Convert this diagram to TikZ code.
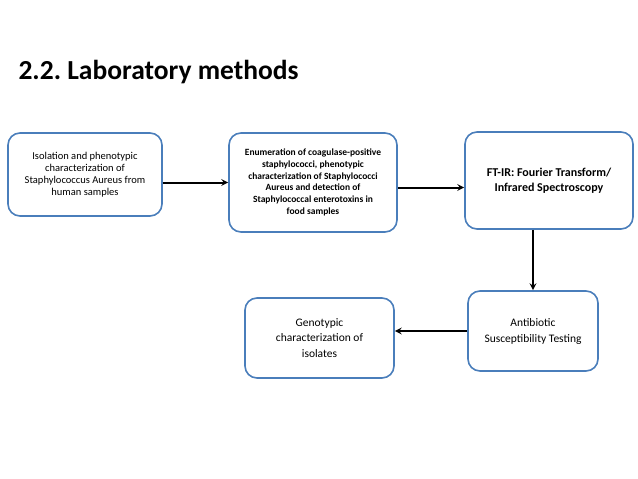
\documentclass[tikz,border=0pt]{standalone}
\usepackage{fontspec}
\setmainfont{Carlito}
\usepackage{tikz}
\usetikzlibrary{shapes.geometric, arrows}
\frenchspacing
\definecolor{boxline}{RGB}{74,126,187}
\tikzstyle{methodbox} = [rectangle, rounded corners=12pt, draw=boxline, line width=1.6pt, fill=white, align=center, inner sep=0pt]
\tikzstyle{arrow} = [line width=2pt,->,>=stealth]

\begin{document}
\begin{tikzpicture}[x=1pt, y=-1pt]
      \useasboundingbox (0,0) rectangle (638,479);
      \node (title) [anchor=west, font=\fontsize{27.5}{32}\selectfont\bfseries] at (15,72) {2.2. Laboratory methods};
      \node (iso) [methodbox, minimum width=154pt, minimum height=83pt, font=\fontsize{10.5}{12.2}\selectfont] at (85,174.5)
        {Isolation and phenotypic\\characterization of\\Staphylococcus Aureus from\\human samples};
      \node (enum) [methodbox, minimum width=168pt, minimum height=99pt, font=\fontsize{9.5}{11.7}\selectfont\bfseries] at (313,182.5)
        {Enumeration of coagulase-positive\\staphylococci, phenotypic\\characterization of Staphylococci\\Aureus and detection of\\Staphylococcal enterotoxins in\\food samples};
      \node (ftir) [methodbox, minimum width=168pt, minimum height=97pt, font=\fontsize{12}{15}\selectfont\bfseries] at (549,180.5)
        {FT-IR: Fourier Transform/\\Infrared Spectroscopy};
      \node (abt) [methodbox, minimum width=130pt, minimum height=80pt, font=\fontsize{11.5}{16}\selectfont] at (533,331)
        {Antibiotic\\Susceptibility Testing};
      \node (geno) [methodbox, minimum width=149pt, minimum height=80pt, font=\fontsize{11.5}{15.5}\selectfont] at (319.5,338)
        {Genotypic\\characterization of\\isolates};
      \draw [arrow] (iso.east |- enum.west) -- (enum.west);
      \draw [arrow] ([yshift=-5pt]enum.east) -- ([yshift=-5pt]enum.east -| ftir.west);
      \draw [arrow] (ftir.south -| abt.north) -- (abt.north);
      \draw [arrow] (abt.west) -- (abt.west -| geno.east);
    \end{tikzpicture}
\end{document}
